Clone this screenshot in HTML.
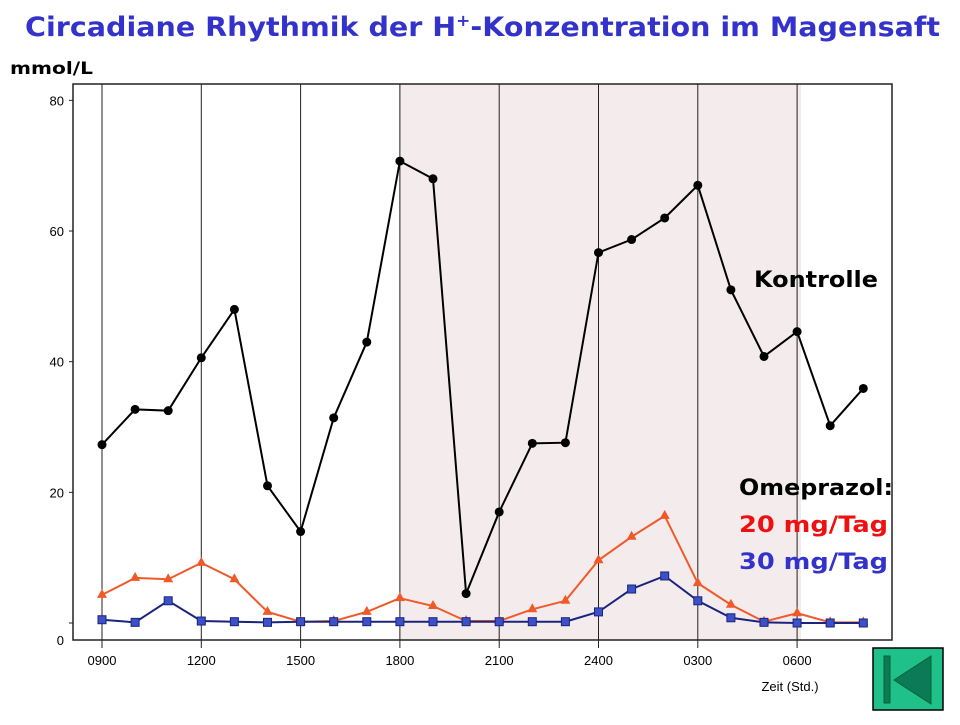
<!DOCTYPE html>
<html><head><meta charset="utf-8"><style>
body{margin:0;width:960px;height:720px;background:#fff;overflow:hidden;font-family:"Liberation Sans",sans-serif}
svg text{font-family:"Liberation Sans","DejaVu Sans",sans-serif}
.b{font-family:"DejaVu Sans","Liberation Sans",sans-serif !important}
</style></head><body>
<svg id="c" width="960" height="720" viewBox="0 0 960 720">
<text class="b" x="25" y="36" font-size="27" font-weight="bold" fill="#3333cc" textLength="915" lengthAdjust="spacingAndGlyphs">Circadiane Rhythmik der H<tspan font-size="16" dy="-10">+</tspan><tspan dy="10">-Konzentration im Magensaft</tspan></text>
<text class="b" x="10" y="74" font-size="17" font-weight="bold" fill="#000" textLength="83" lengthAdjust="spacingAndGlyphs">mmol/L</text>
<rect x="399" y="84" width="402" height="556" fill="#f4ecec"/>
<g id="grid"></g>
<rect x="73" y="84" width="819" height="556" fill="none" stroke="#222" stroke-width="1.5"/>
<g id="series"></g>
<g id="axes"></g>
<text x="790" y="691" text-anchor="middle" font-size="13">Zeit (Std.)</text>
<text class="b" x="754" y="287" font-size="22" font-weight="bold" textLength="124" lengthAdjust="spacingAndGlyphs">Kontrolle</text>
<text class="b" x="739" y="495" font-size="22" font-weight="bold" textLength="154" lengthAdjust="spacingAndGlyphs">Omeprazol:</text>
<text class="b" x="739" y="532" font-size="22" font-weight="bold" fill="#ee1111" textLength="149" lengthAdjust="spacingAndGlyphs">20 mg/Tag</text>
<text class="b" x="739" y="569" font-size="22" font-weight="bold" fill="#3333cc" textLength="149" lengthAdjust="spacingAndGlyphs">30 mg/Tag</text>
<g>
<rect x="873" y="648" width="70" height="62" fill="#1fc08a" stroke="#000" stroke-width="1.5"/>
<rect x="884" y="656" width="6" height="47" fill="#0c7a56" stroke="#063"/>
<polygon points="894,680 931,656 931,704" fill="#0c7a56" stroke="#063"/>
</g>
</svg>
<script>
const hours=["0900","1000","1100","1200","1300","1400","1500","1600","1700","1800","1900","2000","2100","2200","2300","2400","0100","0200","0300","0400","0500","0600","0700","0800"];
const kontrolle=[27.3,32.7,32.5,40.6,48,21,14,31.4,43,70.7,68,4.5,17,27.5,27.6,56.7,58.7,62,67,51,40.8,44.6,30.2,35.9];
const omep20=[4.3,6.9,6.7,9.2,6.7,1.7,0.2,0.3,1.7,3.8,2.6,0.3,0.3,2.1,3.4,9.6,13.2,16.4,6.1,2.8,0.2,1.5,0.1,0.1];
const omep30=[0.5,0.1,3.4,0.3,0.2,0.1,0.2,0.2,0.2,0.2,0.2,0.2,0.2,0.2,0.2,1.7,5.2,7.2,3.4,0.8,0.1,0,0,0];
const yTicks=[0,20,40,60,80];
const xTickLabels=["0900","1200","1500","1800","2100","2400","0300","0600"];
const NS="http://www.w3.org/2000/svg";
function X(i){return 102+i*33.1;}
function Y(v){return 623-v*6.533;}
function mk(t,a,p){const e=document.createElementNS(NS,t);for(const k in a)e.setAttribute(k,a[k]);p.appendChild(e);return e;}
const grid=document.getElementById('grid'),axes=document.getElementById('axes'),ser=document.getElementById('series');
xTickLabels.forEach((l,j)=>{const x=X(hours.indexOf(l));
 const ln=mk('line',{x1:x,x2:x,y1:84,y2:648,stroke:'#222','stroke-width':1},grid);
 
 
 const t=mk('text',{x:x,y:665,'text-anchor':'middle','font-size':13},axes);t.textContent=l;
 
 });
yTicks.forEach(v=>{const y=v===0?640:Y(v);
 mk('line',{x1:69,x2:73,y1:Y(v),y2:Y(v),stroke:'#222'},axes);
 const t=mk('text',{x:64,y:y+5,'text-anchor':'end','font-size':13},axes);t.textContent=v;
 
 });
function line(data,col,name,marker){
 const g=mk('g',{},ser);
 
 
 mk('polyline',{points:data.map((v,i)=>X(i)+','+Y(v)).join(' '),fill:'none',stroke:col,'stroke-width':2},g);
 data.forEach((v,i)=>{const x=X(i),y=Y(v);let m;
  if(marker==='c')m=mk('circle',{cx:x,cy:y,r:4.5,fill:'#000'},g);
  else if(marker==='t')m=mk('polygon',{points:`${x},${y-6} ${x-5},${y+3} ${x+5},${y+3}`,fill:'#f05a2a'},g);
  else m=mk('rect',{x:x-4,y:y-4,width:8,height:8,fill:'#3c50c8',stroke:'#1a237e'},g);
  
  });
}
line(omep20,'#f05a2a','series-20mg','t');
line(omep30,'#1a237e','series-30mg','s');
line(kontrolle,'#000','series-kontrolle','c');
</script>
</body></html>
